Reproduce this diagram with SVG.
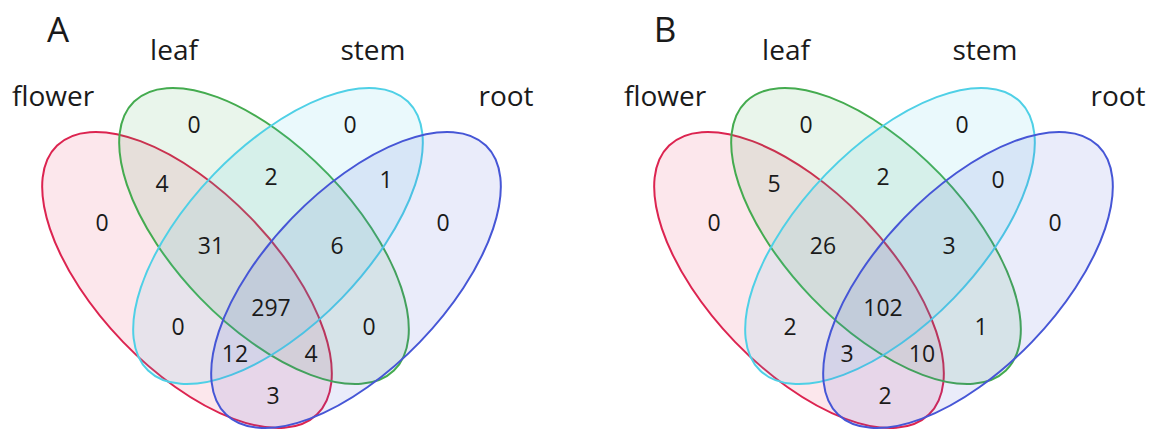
<svg xmlns="http://www.w3.org/2000/svg" width="1150" height="432" viewBox="0 0 1150 432">
<style>
.e{stroke-width:2;fill-opacity:0.11}
.red{stroke:#dc2450;fill:#e8204f}
.grn{stroke:#44ab4f;fill:#3aa64a}
.cyn{stroke:#4fd0e6;fill:#3cc8e6}
.blu{stroke:#4656d6;fill:#4050d0}
text{font-family:"Open Sans","Liberation Sans",sans-serif;fill:#1a1a1a;text-anchor:middle}
.lbl{font-size:28px}
.num{font-size:23px}
.ttl{font-size:35px}
</style>
<rect width="1150" height="432" fill="#ffffff"/>
<g id="panelA">
  <g id="A-flower"><ellipse class="e red" cx="187" cy="280" rx="187" ry="89" transform="rotate(46 187 280)"/></g>
  <g id="A-leaf"><ellipse class="e grn" cx="264" cy="236" rx="187" ry="89" transform="rotate(46 264 236)"/></g>
  <g id="A-stem"><ellipse class="e cyn" cx="278" cy="236" rx="187" ry="89" transform="rotate(-46 278 236)"/></g>
  <g id="A-root"><ellipse class="e blu" cx="356" cy="280" rx="187" ry="89" transform="rotate(-46 356 280)"/></g>
  <text class="ttl" x="58" y="42">A</text>
  <text class="lbl" x="174" y="60">leaf</text>
  <text class="lbl" x="373" y="60">stem</text>
  <text class="lbl" x="53" y="106">flower</text>
  <text class="lbl" x="506" y="106">root</text>
  <g class="nums">
    <text class="num" x="194" y="133">0</text>
    <text class="num" x="350" y="133">0</text>
    <text class="num" x="162" y="192">4</text>
    <text class="num" x="271" y="185">2</text>
    <text class="num" x="386" y="188">1</text>
    <text class="num" x="102" y="231">0</text>
    <text class="num" x="443" y="231">0</text>
    <text class="num" x="211" y="254">31</text>
    <text class="num" x="337" y="254">6</text>
    <text class="num" x="271" y="316">297</text>
    <text class="num" x="178" y="335">0</text>
    <text class="num" x="369" y="335">0</text>
    <text class="num" x="235" y="362">12</text>
    <text class="num" x="311" y="362">4</text>
    <text class="num" x="273" y="404">3</text>
  </g>
</g>
<g id="panelB">
  <g id="B-flower"><ellipse class="e red" cx="799" cy="280" rx="187" ry="89" transform="rotate(46 799 280)"/></g>
  <g id="B-leaf"><ellipse class="e grn" cx="876" cy="236" rx="187" ry="89" transform="rotate(46 876 236)"/></g>
  <g id="B-stem"><ellipse class="e cyn" cx="890" cy="236" rx="187" ry="89" transform="rotate(-46 890 236)"/></g>
  <g id="B-root"><ellipse class="e blu" cx="968" cy="280" rx="187" ry="89" transform="rotate(-46 968 280)"/></g>
  <text class="ttl" x="665" y="42">B</text>
  <text class="lbl" x="786" y="60">leaf</text>
  <text class="lbl" x="985" y="60">stem</text>
  <text class="lbl" x="665" y="106">flower</text>
  <text class="lbl" x="1118" y="106">root</text>
  <g class="nums">
    <text class="num" x="806" y="133">0</text>
    <text class="num" x="962" y="133">0</text>
    <text class="num" x="774" y="192">5</text>
    <text class="num" x="883" y="185">2</text>
    <text class="num" x="998" y="188">0</text>
    <text class="num" x="714" y="231">0</text>
    <text class="num" x="1055" y="231">0</text>
    <text class="num" x="823" y="254">26</text>
    <text class="num" x="949" y="254">3</text>
    <text class="num" x="883" y="316">102</text>
    <text class="num" x="790" y="335">2</text>
    <text class="num" x="981" y="335">1</text>
    <text class="num" x="847" y="362">3</text>
    <text class="num" x="922" y="362">10</text>
    <text class="num" x="885" y="404">2</text>
  </g>
</g>
</svg>
